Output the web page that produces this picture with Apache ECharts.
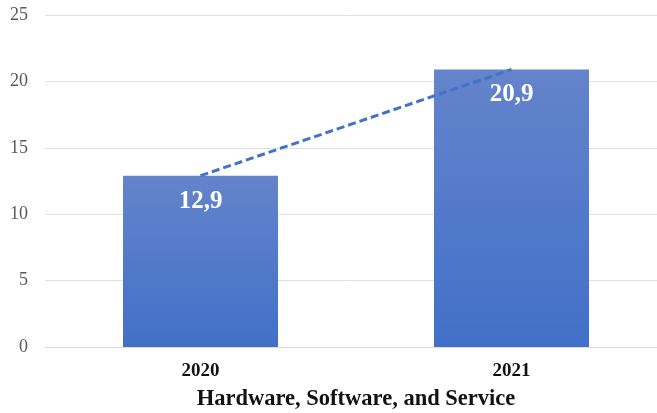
<!DOCTYPE html>
<html>
<head>
<meta charset="utf-8">
<script src="https://cdn.jsdelivr.net/npm/echarts@6/dist/echarts.min.js"></script>
<style>
  html, body { margin: 0; padding: 0; background: #fff; }
  #chart { width: 657px; height: 413px; }
</style>
</head>
<body>
<div id="chart"></div>
<script>
// Yearly totals for the segment
const years = ['2020', '2021'];
const values = [12.9, 20.9];
const yTicks = [0, 5, 10, 15, 20, 25];
const axisTitle = 'Hardware, Software, and Service';

const chart = echarts.init(document.getElementById('chart'));

const serif = '"Liberation Serif", "DejaVu Serif", serif';

chart.setOption({
  animation: false,
  backgroundColor: '#ffffff',
  // plot area runs slightly past the right edge so the gridlines reach the border
  grid: { left: 45, right: -10, top: 15, bottom: 66, outerBoundsMode: 'none' },
  xAxis: {
    type: 'category',
    data: years,
    axisTick: { show: false },
    axisLine: { show: true, lineStyle: { color: '#d9d9d9', width: 1 } },
    axisLabel: {
      margin: 15,
      fontFamily: serif,
      fontWeight: 'bold',
      fontSize: 19,
      color: '#111'
    },
    name: axisTitle,
    nameLocation: 'middle',
    nameGap: 41,
    nameTextStyle: {
      fontFamily: serif,
      fontWeight: 'bold',
      fontSize: 22.5,
      color: '#111'
    }
  },
  yAxis: {
    type: 'value',
    min: yTicks[0],
    max: yTicks[yTicks.length - 1],
    interval: 5,
    axisLine: { show: false },
    axisTick: { show: false },
    splitLine: { lineStyle: { color: '#e0e0e0', width: 1 } },
    axisLabel: {
      margin: 17,
      fontFamily: serif,
      fontSize: 18,
      color: '#595959'
    }
  },
  series: [
    {
      type: 'bar',
      data: values,
      barWidth: 155,
      itemStyle: {
        color: new echarts.graphic.LinearGradient(0, 0, 0, 1, [
          { offset: 0, color: '#6484cb' },
          { offset: 1, color: '#4270c8' }
        ])
      },
      label: {
        show: true,
        position: 'insideTop',
        distance: 13,
        formatter: p => String(p.value).replace('.', ','),
        fontFamily: serif,
        fontWeight: 'bold',
        fontSize: 25,
        color: '#ffffff'
      },
      z: 2
    },
    {
      type: 'line',
      data: values,
      symbol: 'none',
      lineStyle: { color: '#4472c4', width: 3, type: [8, 4] },
      z: 3
    }
  ]
});
</script>
</body>
</html>
